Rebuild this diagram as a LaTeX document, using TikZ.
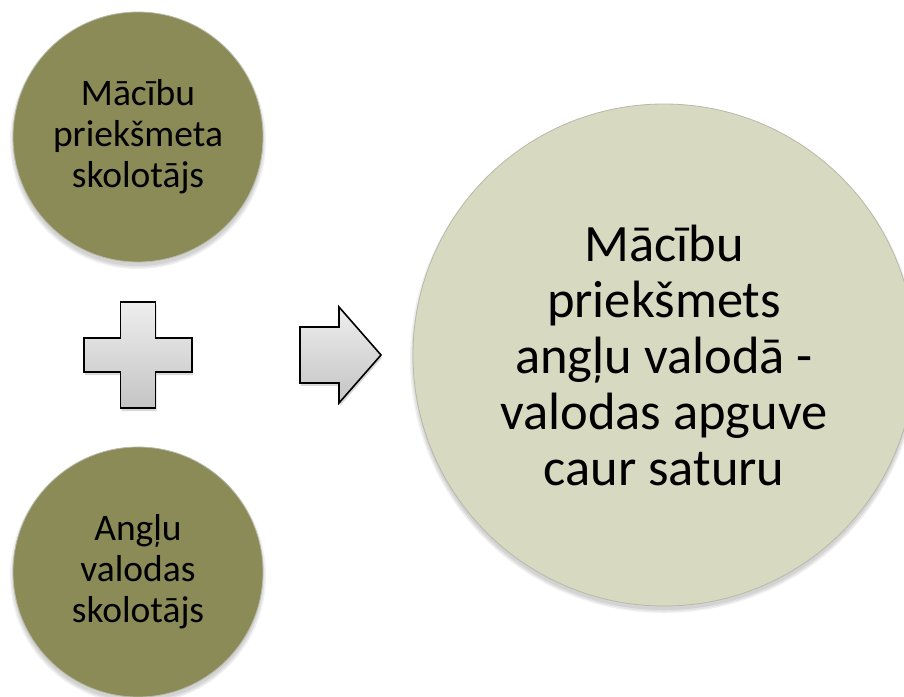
\documentclass[tikz,border=0pt]{standalone}
\usepackage{fontspec}
\setmainfont{Carlito}
\usetikzlibrary{shadings}
\definecolor{olive}{RGB}{138,139,87}
\definecolor{pale}{RGB}{216,217,193}
\definecolor{rimgray}{RGB}{185,185,170}
\definecolor{gtop}{RGB}{238,238,238}
\definecolor{gbot}{RGB}{196,196,196}
\tikzset{
  smallcircle/.style={circle, fill=olive, draw=rimgray, line width=0.8pt, minimum size=250pt, inner sep=0pt,
     align=center, font=\fontsize{37.5}{41}\selectfont},
  bigcircle/.style={circle, fill=pale, draw=rimgray, line width=0.8pt, minimum size=502pt, inner sep=0pt,
     align=center, font=\fontsize{52.5}{56}\selectfont},
  symbolshape/.style={draw=black, line width=1.6pt, top color=gtop, bottom color=gbot, line join=miter},
  softshadow/.style={fill=black, opacity=0.06}
}
\begin{document}
\begin{tikzpicture}[x=1pt, y=-1pt]
\useasboundingbox (0,0) rectangle (904,696);
\fill[white] (0,0) rectangle (904,696);
% shadows
\foreach \r in {125,126.5,128}{
  \fill[softshadow] (138,141) circle (\r);
  \fill[softshadow] (138,576) circle (\r);
  \fill[softshadow] (664,359) circle (\r+126);
}
\node[smallcircle] (top) at (138,137) {Mācību\\priekšmeta\\skolotājs};
\node[smallcircle] (bot) at (138,572) {Angļu\\valodas\\skolotājs};
\node[bigcircle] (big) at (664,355) {Mācību\\priekšmets\\angļu valodā -\\valodas apguve\\caur saturu};
% plus sign
\coordinate (pc) at (138,355);
\fill[black, opacity=0.15] ([shift={(1,3)}]pc) ++(-17.5,-53) -- ++(35,0) -- ++(0,36) -- ++(36.5,0) -- ++(0,34) -- ++(-36.5,0) -- ++(0,36) -- ++(-35,0) -- ++(0,-36) -- ++(-36.5,0) -- ++(0,-34) -- ++(36.5,0) -- cycle;
\path[symbolshape] (pc) ++(-17.5,-53) -- ++(35,0) -- ++(0,36) -- ++(36.5,0) -- ++(0,34) -- ++(-36.5,0) -- ++(0,36) -- ++(-35,0) -- ++(0,-36) -- ++(-36.5,0) -- ++(0,-34) -- ++(36.5,0) -- cycle;
% arrow
\coordinate (ac) at (300,355);
\fill[black, opacity=0.15] ([shift={(1,3)}]ac) ++(0,-28) -- ++(39,0) -- ++(0,-20) -- ++(42,48) -- ++(-42,48) -- ++(0,-20) -- ++(-39,0) -- cycle;
\path[symbolshape] (ac) ++(0,-28) -- ++(39,0) -- ++(0,-20) -- ++(42,48) -- ++(-42,48) -- ++(0,-20) -- ++(-39,0) -- cycle;
\end{tikzpicture}
\end{document}
